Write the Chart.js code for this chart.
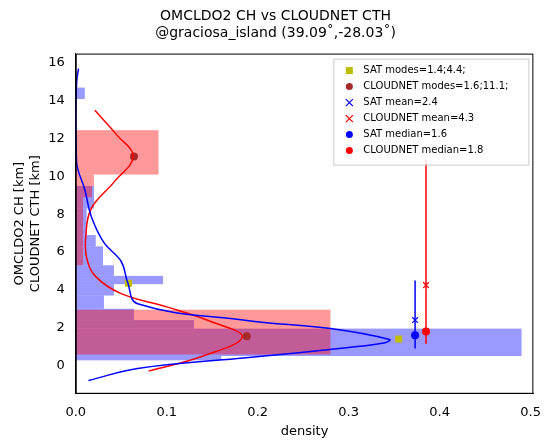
<!DOCTYPE html>
<html><head><meta charset="utf-8">
<script src="https://cdn.jsdelivr.net/npm/chart.js@4"></script>
<style>body{margin:0;background:#fff}#wrap{width:544px;height:443px}</style>
</head><body><div id="wrap"><canvas id="c"></canvas></div>
<script>
// histogram bins: [low km, high km, density]
const satBins = [[0.27,0.5,0.16],[0.5,1.95,0.49],[1.95,2.4,0.13],[2.4,3.0,0.064],[3.0,3.7,0.031],[3.7,4.3,0.042],[4.3,4.74,0.096],[4.74,5.3,0.042],[5.3,6.3,0.03],[6.3,6.9,0.022],[6.9,8.3,0.012],[8.3,9.5,0.02],[14.1,14.7,0.01]];
const cloudBins = [[0.58,2.95,0.28],[5.3,8.9,0.008],[8.9,9.5,0.018],[9.5,10.1,0.02],[10.1,12.45,0.091]];
const satKdeX = [0.014,0.068,0.19,0.30,0.34,0.345,0.28,0.19,0.068,0.057,0.05,0.031,0.017,0.01,0.001,0,0.001,0.003];
const satKdeY = [-0.8,-0.16,0.42,0.95,1.2,1.37,1.95,2.37,3.26,4.4,5.5,6.5,7.9,9.3,10.7,13.2,15.0,15.7];
const cloudKdeX = [0.08,0.14,0.183,0.15,0.1,0.05,0.022,0.012,0.011,0.017,0.042,0.063,0.045,0.021];
const cloudKdeY = [-0.3,0.5,1.5,2.3,3.1,3.8,4.7,5.7,6.8,8.3,9.7,11.05,12.2,13.5];
const satModes = [[0.058,4.35],[0.355,1.4]];
const cloudModes = [[0.064,11.05],[0.188,1.55]];
const satMean = [0.373,2.4], cloudMean = [0.385,4.25];
const satMedian = [0.373,1.6], cloudMedian = [0.385,1.8];
const satRange = [0.9,4.5], cloudRange = [1.15,10.9];
const labels = ['SAT modes=1.4;4.4;','CLOUDNET modes=1.6;11.1;','SAT mean=2.4','CLOUDNET mean=4.3','SAT median=1.6','CLOUDNET median=1.8'];

const pts = (xs, ys) => xs.map((x, i) => ({x: x, y: ys[i]}));
const xy = a => ({x: a[0], y: a[1]});

const histPlugin = {
  id: 'hist',
  beforeDatasetsDraw(chart) {
    const {ctx, scales: {x, y}, chartArea: a} = chart;
    ctx.save();
    ctx.beginPath(); ctx.rect(a.left, a.top, a.width, a.height); ctx.clip();
    [[satBins, 'rgba(0,0,255,0.4)'], [cloudBins, 'rgba(255,0,0,0.4)']].forEach(([bins, col]) => {
      ctx.fillStyle = col;
      bins.forEach(b => {
        const x0 = x.getPixelForValue(0), x1 = x.getPixelForValue(b[2]);
        const y0 = y.getPixelForValue(b[1]), y1 = y.getPixelForValue(b[0]);
        ctx.fillRect(x0, y0, x1 - x0, y1 - y0);
      });
    });
    ctx.restore();
  }
};

const legendPlugin = {
  id: 'boxLegend',
  afterDraw(chart) {
    const {ctx, chartArea: a} = chart;
    // axes frame
    ctx.save();
    ctx.strokeStyle = '#000'; ctx.lineWidth = 1;
    ctx.strokeRect(a.left + 0.5, a.top + 0.5, a.width - 1, a.height - 1);
    const items = chart.data.datasets.filter(d => d.label);
    const bx = a.right - 200, by = a.top + 5, w = 195, h = items.length * 16 + 10;
    ctx.fillStyle = 'rgba(255,255,255,0.85)'; ctx.strokeStyle = '#ccc';
    ctx.fillRect(bx, by, w, h); ctx.strokeRect(bx + 0.5, by + 0.5, w, h);
    ctx.font = '10px "DejaVu Sans"'; ctx.textBaseline = 'middle';
    items.forEach((d, i) => {
      const cy = by + 12 + i * 16, cx = bx + 16;
      ctx.fillStyle = d.backgroundColor; ctx.strokeStyle = d.borderColor; ctx.lineWidth = 1.2;
      if (d.pointStyle === 'rect') ctx.fillRect(cx - 3.5, cy - 3.5, 7, 7);
      else if (d.pointStyle === 'crossRot') { ctx.beginPath(); ctx.moveTo(cx-3.5,cy-3.5); ctx.lineTo(cx+3.5,cy+3.5); ctx.moveTo(cx+3.5,cy-3.5); ctx.lineTo(cx-3.5,cy+3.5); ctx.stroke(); }
      else { ctx.beginPath(); ctx.arc(cx, cy, 3.5, 0, Math.PI * 2); ctx.fill(); }
      ctx.fillStyle = '#000'; ctx.fillText(d.label, bx + 30, cy);
    });
    ctx.restore();
  }
};

const line = (data, col) => ({type: 'line', data: data, borderColor: col, borderWidth: 1.5, pointRadius: 0, tension: 0.4, fill: false});
const mark = (label, data, style, col, r) => ({type: 'scatter', label: label, data: data, pointStyle: style, backgroundColor: col, borderColor: col, pointRadius: r, borderWidth: style === 'crossRot' ? 1.2 : 0});

new Chart(document.getElementById('c'), {
  type: 'scatter',
  data: {datasets: [
    line(pts(satKdeX, satKdeY), '#0000ff'),
    line(pts(cloudKdeX, cloudKdeY), '#ff0000'),
    line([{x: satMedian[0], y: satRange[0]}, {x: satMedian[0], y: satRange[1]}], '#0000ff'),
    line([{x: cloudMedian[0], y: cloudRange[0]}, {x: cloudMedian[0], y: cloudRange[1]}], '#ff0000'),
    mark(labels[0], satModes.map(xy), 'rect', '#bfbf00', 5),
    mark(labels[1], cloudModes.map(xy), 'circle', '#a52a2a', 4),
    mark(labels[2], [xy(satMean)], 'crossRot', '#0000ff', 4),
    mark(labels[3], [xy(cloudMean)], 'crossRot', '#ff0000', 4),
    mark(labels[4], [xy(satMedian)], 'circle', '#0000ff', 4),
    mark(labels[5], [xy(cloudMedian)], 'circle', '#ff0000', 4)
  ]},
  options: {
    responsive: true, maintainAspectRatio: false, animation: false,
    layout: {padding: {left: 10, right: 3, top: 2, bottom: 4}},
    plugins: {
      legend: {display: false}, tooltip: {enabled: false},
      title: {display: true, text: ['OMCLDO2 CH vs CLOUDNET CTH', '@graciosa_island (39.09\u02da,-28.03\u02da)'], color: '#000', font: {family: 'DejaVu Sans', size: 14, weight: 'normal'}, padding: {top: 6, bottom: 12}}
    },
    scales: {
      x: {type: 'linear', min: 0, max: 0.503, border: {color: '#000'}, grid: {display: false, drawTicks: true, tickColor: '#000'},
          ticks: {color: '#000', font: {family: 'DejaVu Sans', size: 13}, callback: v => v.toFixed(1)},
          afterBuildTicks: s => { s.ticks = [0,0.1,0.2,0.3,0.4,0.5].map(v => ({value: v})); },
          title: {display: true, text: 'density', color: '#000', font: {family: 'DejaVu Sans', size: 13}, padding: 0}},
      y: {type: 'linear', min: -1.5, max: 16.5, border: {color: '#000'}, grid: {display: false, tickColor: '#000'},
          afterBuildTicks: s => { s.ticks = [0,2,4,6,8,10,12,14,16].map(v => ({value: v})); },
          ticks: {color: '#000', font: {family: 'DejaVu Sans', size: 13}},
          title: {display: true, text: ['OMCLDO2 CH [km]', 'CLOUDNET CTH [km]'], color: '#000', font: {family: 'DejaVu Sans', size: 13}, padding: 2}}
    }
  },
  plugins: [histPlugin, legendPlugin]
});
</script></body></html>
